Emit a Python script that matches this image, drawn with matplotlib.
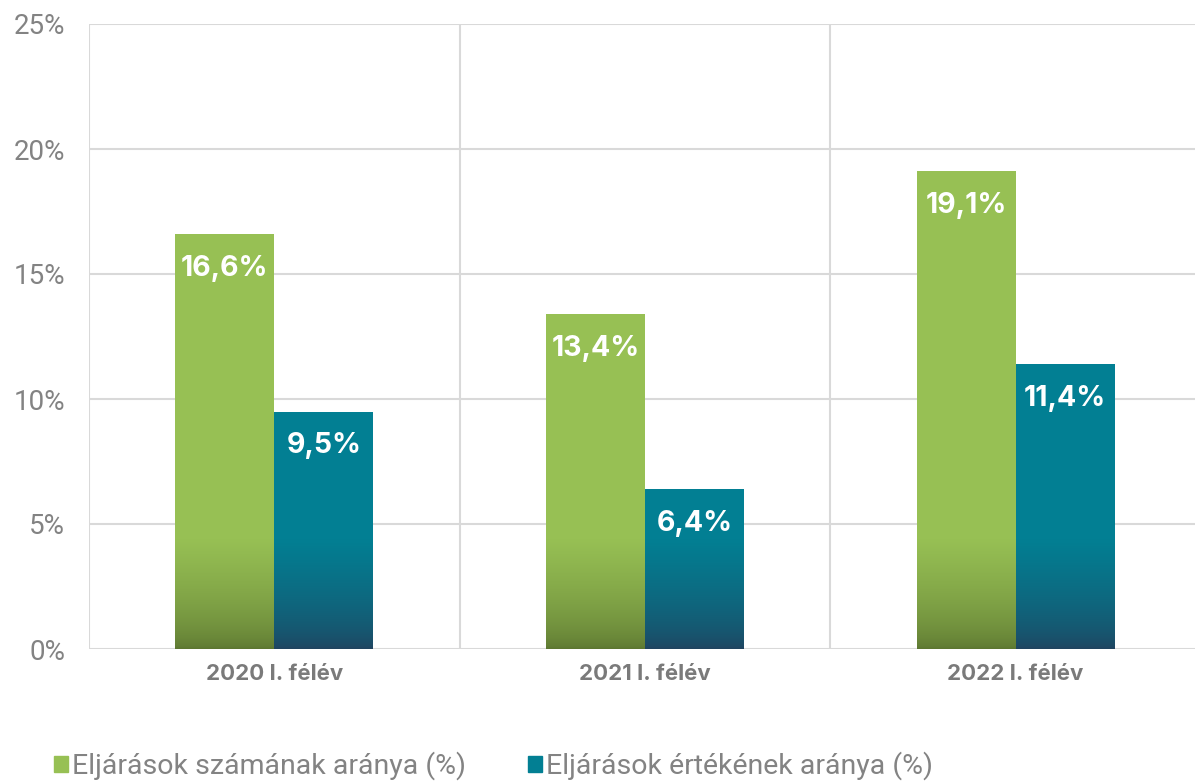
import numpy as np
import matplotlib
matplotlib.use("Agg")
import matplotlib.pyplot as plt
from matplotlib.colors import LinearSegmentedColormap
from matplotlib.patches import Rectangle

categories = ["2020 I. félév", "2021 I. félév", "2022 I. félév"]
series_names = ["Eljárások számának aránya (%)", "Eljárások értékének aránya (%)"]
szam = [16.6, 13.4, 19.1]
ertek = [9.5, 6.4, 11.4]
yticks = [0, 5, 10, 15, 20, 25]
ytick_labels = ["0%", "5%", "10%", "15%", "20%", "25%"]

green = "#97C054"
green_dark = "#5B7530"
teal = "#027F93"
teal_dark = "#21425E"
grid_c = "#D9D9D9"
text_c = "#7A7A7A"
light_text_c = "#838383"

W, H = 1195, 781
fig = plt.figure(figsize=(W / 100, H / 100), dpi=100)
ax = fig.add_axes([89 / W, (H - 649) / H, (1201 - 89) / W, 625 / H])

n = len(categories)
x = np.arange(n)
bw = 0.267
ax.set_xlim(-0.5, n - 0.5)
ax.set_ylim(0, 25)

for y in yticks:
    ax.axhline(y, color=grid_c, lw=1.5, zorder=0)
for b in np.arange(-0.5, n + 0.5, 1):
    ax.axvline(b, color=grid_c, lw=1.5, zorder=0)

def grad_bar(xc, h, top_c, bot_c, zorder=2):
    ax.bar(xc, h, width=bw, color=top_c, zorder=zorder, linewidth=0)
    gh = min(h, 4.4)
    cmap = LinearSegmentedColormap.from_list("g", [bot_c, top_c])
    t = np.linspace(0, 1, 200) ** 0.6
    img = t.reshape(-1, 1)
    ax.imshow(img, cmap=cmap, origin="lower", aspect="auto",
              extent=(xc - bw / 2, xc + bw / 2, 0, gh), zorder=zorder + 0.1,
              interpolation="bilinear")

for i in range(n):
    grad_bar(x[i] - bw / 2, szam[i], green, green_dark)
    grad_bar(x[i] + bw / 2, ertek[i], teal, teal_dark)
    for xc, v in ((x[i] - bw / 2, szam[i]), (x[i] + bw / 2, ertek[i])):
        ax.annotate(f"{v:.1f}%".replace(".", ","), (xc, v), xytext=(0, -24.5),
                    textcoords="offset points", ha="center", va="center",
                    color="white", fontsize=20.5, fontweight="bold",
                    family="Inter", zorder=5)

ax.set_xticks(x)
ax.set_xticklabels(categories, fontsize=16, fontweight="bold", color=text_c, family="Inter")
ax.set_yticks(yticks)
ax.set_yticklabels(ytick_labels, fontsize=20, color=light_text_c, family="Roboto", fontweight="normal")
ax.tick_params(length=0)
ax.tick_params(axis="x", pad=11)
ax.tick_params(axis="y", pad=17)
for s in ax.spines.values():
    s.set_visible(False)

# legend
handles = [Rectangle((0, 0), 1, 1, color=green), Rectangle((0, 0), 1, 1, color=teal)]
leg = fig.legend(handles, series_names, loc="center left", bbox_to_anchor=(28 / W, 1 - 766 / H),
                 ncol=2, frameon=False, handlelength=0.5, handleheight=0.5, handletextpad=0.15,
                 columnspacing=2.17, prop={"family": "Roboto", "weight": "normal", "size": 20.5})
for t in leg.get_texts():
    t.set_color(light_text_c)

fig.savefig("out.png", dpi=100)
